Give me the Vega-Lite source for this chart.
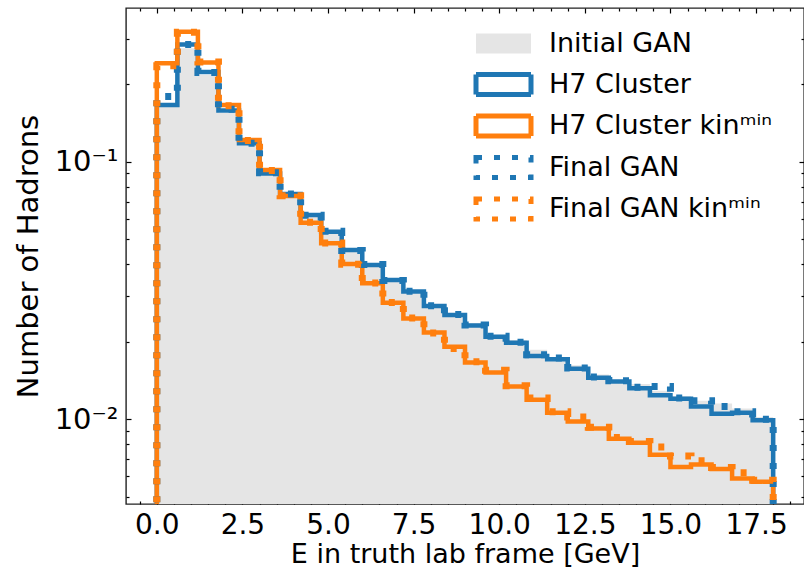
{
  "$schema": "https://vega.github.io/schema/vega-lite/v6.json",
  "autosize": {"type": "none"},
  "padding": {"left": 126, "top": 8, "right": 0, "bottom": 68},
  "width": 678,
  "height": 496,
  "config": {
    "font": "DejaVu Sans",
    "view": {"stroke": "#222", "strokeWidth": 1.4},
    "axis": {"grid": false, "domain": false, "tickColor": "#000", "tickWidth": 1.2, "labelColor": "#000", "titleColor": "#000", "labelFont": "DejaVu Sans", "titleFont": "DejaVu Sans", "titleFontWeight": "normal", "labelFlush": false, "labelOverlap": false},
    "legend": {"labelFont": "DejaVu Sans", "labelFontSize": 27, "labelColor": "#000", "labelLimit": 500, "padding": 0, "symbolOpacity": 1}
  },
  "data": {"values": [
    {"x": 0, "o": 0, "Initial GAN": 0.0001, "H7 Cluster": 0.0001, "H7 Cluster kinᵐⁱⁿ": 0.0001, "Final GAN": 0.0001, "Final GAN kinᵐⁱⁿ": 0.0001},
    {"x": 0, "o": 1, "Initial GAN": 0.1635, "H7 Cluster": 0.166, "H7 Cluster kinᵐⁱⁿ": 0.241, "Final GAN": 0.179, "Final GAN kinᵐⁱⁿ": 0.236},
    {"x": 0.6, "o": 2, "Initial GAN": 0.276, "H7 Cluster": 0.285, "H7 Cluster kinᵐⁱⁿ": 0.32, "Final GAN": 0.285, "Final GAN kinᵐⁱⁿ": 0.318},
    {"x": 1.2, "o": 3, "Initial GAN": 0.217, "H7 Cluster": 0.223, "H7 Cluster kinᵐⁱⁿ": 0.243, "Final GAN": 0.222, "Final GAN kinᵐⁱⁿ": 0.244},
    {"x": 1.8, "o": 4, "Initial GAN": 0.155, "H7 Cluster": 0.158, "H7 Cluster kinᵐⁱⁿ": 0.166, "Final GAN": 0.16, "Final GAN kinᵐⁱⁿ": 0.165},
    {"x": 2.4, "o": 5, "Initial GAN": 0.117, "H7 Cluster": 0.118, "H7 Cluster kinᵐⁱⁿ": 0.1214, "Final GAN": 0.118, "Final GAN kinᵐⁱⁿ": 0.121},
    {"x": 3.0, "o": 6, "Initial GAN": 0.089, "H7 Cluster": 0.09, "H7 Cluster kinᵐⁱⁿ": 0.0928, "Final GAN": 0.0905, "Final GAN kinᵐⁱⁿ": 0.0925},
    {"x": 3.6, "o": 7, "Initial GAN": 0.074, "H7 Cluster": 0.0749, "H7 Cluster kinᵐⁱⁿ": 0.0736, "Final GAN": 0.075, "Final GAN kinᵐⁱⁿ": 0.0738},
    {"x": 4.2, "o": 8, "Initial GAN": 0.0612, "H7 Cluster": 0.0621, "H7 Cluster kinᵐⁱⁿ": 0.058, "Final GAN": 0.062, "Final GAN kinᵐⁱⁿ": 0.0582},
    {"x": 4.8, "o": 9, "Initial GAN": 0.0525, "H7 Cluster": 0.0535, "H7 Cluster kinᵐⁱⁿ": 0.0482, "Final GAN": 0.0537, "Final GAN kinᵐⁱⁿ": 0.0483},
    {"x": 5.4, "o": 10, "Initial GAN": 0.0452, "H7 Cluster": 0.0454, "H7 Cluster kinᵐⁱⁿ": 0.0401, "Final GAN": 0.0452, "Final GAN kinᵐⁱⁿ": 0.04},
    {"x": 6.0, "o": 11, "Initial GAN": 0.0398, "H7 Cluster": 0.0397, "H7 Cluster kinᵐⁱⁿ": 0.0337, "Final GAN": 0.0399, "Final GAN kinᵐⁱⁿ": 0.0338},
    {"x": 6.6, "o": 12, "Initial GAN": 0.0346, "H7 Cluster": 0.0347, "H7 Cluster kinᵐⁱⁿ": 0.0283, "Final GAN": 0.0346, "Final GAN kinᵐⁱⁿ": 0.0284},
    {"x": 7.2, "o": 13, "Initial GAN": 0.0312, "H7 Cluster": 0.0313, "H7 Cluster kinᵐⁱⁿ": 0.0246, "Final GAN": 0.0314, "Final GAN kinᵐⁱⁿ": 0.0247},
    {"x": 7.8, "o": 14, "Initial GAN": 0.0277, "H7 Cluster": 0.0275, "H7 Cluster kinᵐⁱⁿ": 0.0217, "Final GAN": 0.0276, "Final GAN kinᵐⁱⁿ": 0.0216},
    {"x": 8.4, "o": 15, "Initial GAN": 0.0257, "H7 Cluster": 0.0254, "H7 Cluster kinᵐⁱⁿ": 0.0191, "Final GAN": 0.0255, "Final GAN kinᵐⁱⁿ": 0.0188},
    {"x": 9.0, "o": 16, "Initial GAN": 0.0236, "H7 Cluster": 0.0231, "H7 Cluster kinᵐⁱⁿ": 0.0166, "Final GAN": 0.0232, "Final GAN kinᵐⁱⁿ": 0.0167},
    {"x": 9.6, "o": 17, "Initial GAN": 0.0213, "H7 Cluster": 0.0209, "H7 Cluster kinᵐⁱⁿ": 0.0152, "Final GAN": 0.021, "Final GAN kinᵐⁱⁿ": 0.0155},
    {"x": 10.2, "o": 18, "Initial GAN": 0.0203, "H7 Cluster": 0.0198, "H7 Cluster kinᵐⁱⁿ": 0.0134, "Final GAN": 0.0199, "Final GAN kinᵐⁱⁿ": 0.0135},
    {"x": 10.8, "o": 19, "Initial GAN": 0.0186, "H7 Cluster": 0.0176, "H7 Cluster kinᵐⁱⁿ": 0.0119, "Final GAN": 0.0178, "Final GAN kinᵐⁱⁿ": 0.0121},
    {"x": 11.4, "o": 20, "Initial GAN": 0.0174, "H7 Cluster": 0.0171, "H7 Cluster kinᵐⁱⁿ": 0.0106, "Final GAN": 0.0173, "Final GAN kinᵐⁱⁿ": 0.0107},
    {"x": 12.0, "o": 21, "Initial GAN": 0.0162, "H7 Cluster": 0.0157, "H7 Cluster kinᵐⁱⁿ": 0.0098, "Final GAN": 0.0158, "Final GAN kinᵐⁱⁿ": 0.0102},
    {"x": 12.6, "o": 22, "Initial GAN": 0.0149, "H7 Cluster": 0.0145, "H7 Cluster kinᵐⁱⁿ": 0.0092, "Final GAN": 0.0146, "Final GAN kinᵐⁱⁿ": 0.0093},
    {"x": 13.2, "o": 23, "Initial GAN": 0.0141, "H7 Cluster": 0.014, "H7 Cluster kinᵐⁱⁿ": 0.0084, "Final GAN": 0.0141, "Final GAN kinᵐⁱⁿ": 0.0085},
    {"x": 13.8, "o": 24, "Initial GAN": 0.0137, "H7 Cluster": 0.0132, "H7 Cluster kinᵐⁱⁿ": 0.0081, "Final GAN": 0.0133, "Final GAN kinᵐⁱⁿ": 0.0082},
    {"x": 14.4, "o": 25, "Initial GAN": 0.0129, "H7 Cluster": 0.0124, "H7 Cluster kinᵐⁱⁿ": 0.00727, "Final GAN": 0.0134, "Final GAN kinᵐⁱⁿ": 0.0078},
    {"x": 15.0, "o": 26, "Initial GAN": 0.0123, "H7 Cluster": 0.012, "H7 Cluster kinᵐⁱⁿ": 0.00652, "Final GAN": 0.0121, "Final GAN kinᵐⁱⁿ": 0.0072},
    {"x": 15.6, "o": 27, "Initial GAN": 0.0118, "H7 Cluster": 0.0112, "H7 Cluster kinᵐⁱⁿ": 0.00667, "Final GAN": 0.0118, "Final GAN kinᵐⁱⁿ": 0.0069},
    {"x": 16.2, "o": 28, "Initial GAN": 0.0115, "H7 Cluster": 0.0105, "H7 Cluster kinᵐⁱⁿ": 0.0064, "Final GAN": 0.0112, "Final GAN kinᵐⁱⁿ": 0.0065},
    {"x": 16.8, "o": 29, "Initial GAN": 0.011, "H7 Cluster": 0.0106, "H7 Cluster kinᵐⁱⁿ": 0.00589, "Final GAN": 0.0107, "Final GAN kinᵐⁱⁿ": 0.0062},
    {"x": 17.4, "o": 30, "Initial GAN": 0.0102, "H7 Cluster": 0.0099, "H7 Cluster kinᵐⁱⁿ": 0.00571, "Final GAN": 0.01, "Final GAN kinᵐⁱⁿ": 0.0058},
    {"x": 18.0, "o": 31, "Initial GAN": 0.0102, "H7 Cluster": 0.0099, "H7 Cluster kinᵐⁱⁿ": 0.00571, "Final GAN": 0.01, "Final GAN kinᵐⁱⁿ": 0.0058},
    {"x": 18.0, "o": 32, "Initial GAN": 0.0001, "H7 Cluster": 0.0001, "H7 Cluster kinᵐⁱⁿ": 0.0001, "Final GAN": 0.0001, "Final GAN kinᵐⁱⁿ": 0.0001}
  ]},
  "transform": [{"fold": ["Initial GAN", "H7 Cluster", "H7 Cluster kinᵐⁱⁿ", "Final GAN", "Final GAN kinᵐⁱⁿ"], "as": ["s", "y"]}],
  "layer": [
    {
      "transform": [{"filter": "datum.s === 'Initial GAN' && datum.o > 0 && datum.o < 32"}],
      "mark": {"type": "area", "interpolate": "step-after", "clip": true, "opacity": 1},
      "encoding": {
        "x": {"field": "x", "type": "quantitative", "scale": {"domain": [-0.9, 18.9], "nice": false, "zero": false},
          "axis": {"orient": "bottom", "values": [0, 2.5, 5, 7.5, 10, 12.5, 15, 17.5], "format": ".1f", "tickSize": -5, "labelFontSize": 28, "labelPadding": 12, "title": "E in truth lab frame [GeV]", "titleFontSize": 27, "titlePadding": 2}},
        "y": {"field": "y", "type": "quantitative", "scale": {"type": "log", "domain": [0.004685, 0.3953], "nice": false},
          "axis": {"orient": "left", "values": [0.01, 0.1], "labelExpr": "datum.value > 0.05 ? '10⁻¹' : '10⁻²'", "tickSize": -5, "labelFontSize": 29, "labelPadding": 13, "title": "Number of Hadrons", "titleFontSize": 29, "titlePadding": 11}},
        "y2": {"datum": 0.0001},
        "fill": {"field": "s", "type": "nominal",
          "scale": {"domain": ["Initial GAN"], "range": ["#e5e5e5"]},
          "legend": {
            "orient": "none", "legendX": 346, "legendY": 22, "title": null,
            "symbolType": "M-2.75,-1H2.75V1H-2.75Z", "symbolSize": 400, "symbolStrokeWidth": 0, "symbolStrokeColor": "transparent",
            "symbolOffset": 18, "labelOffset": 32, "rowPadding": 4.5
          }}
      }
    },
    {
      "transform": [{"filter": "datum.s === 'H7 Cluster'"}],
      "mark": {"type": "line", "interpolate": "step-after", "clip": true, "strokeWidth": 4.5, "strokeJoin": "miter", "strokeCap": "butt"},
      "encoding": {
        "x": {"field": "x", "type": "quantitative", "scale": {"domain": [-0.9, 18.9], "nice": false, "zero": false},
          "axis": {"orient": "bottom", "values": [-0.5, 0.5, 1, 1.5, 2, 3, 3.5, 4, 4.5, 5.5, 6, 6.5, 7, 8, 8.5, 9, 9.5, 10.5, 11, 11.5, 12, 13, 13.5, 14, 14.5, 15.5, 16, 16.5, 17, 18, 18.5], "tickSize": -3, "labels": false, "title": null}},
        "y": {"field": "y", "type": "quantitative", "scale": {"type": "log", "domain": [0.004685, 0.3953], "nice": false},
          "axis": {"orient": "left", "values": [0.005, 0.006, 0.007, 0.008, 0.009, 0.02, 0.03, 0.04, 0.05, 0.06, 0.07, 0.08, 0.09, 0.2, 0.3], "tickSize": -3, "labels": false, "title": null}},
        "order": {"field": "o", "type": "quantitative"},
        "stroke": {"field": "s", "type": "nominal",
          "scale": {"domain": ["H7 Cluster", "H7 Cluster kinᵐⁱⁿ", "Final GAN", "Final GAN kinᵐⁱⁿ"], "range": ["#1f77b4", "#ff7f0e", "#1f77b4", "#ff7f0e"]},
          "legend": {
            "orient": "none", "legendX": 346, "legendY": 63, "title": null,
            "symbolType": "M-2.75,-1H2.75V1H-2.75Z", "symbolSize": 400, "symbolStrokeWidth": 5, "symbolFillColor": "transparent",
            "symbolOffset": 18, "labelOffset": 32, "rowPadding": 0.5
          }},
        "strokeDash": {"field": "s", "type": "nominal",
          "scale": {"domain": ["H7 Cluster", "H7 Cluster kinᵐⁱⁿ", "Final GAN", "Final GAN kinᵐⁱⁿ"], "range": [[1, 0], [1, 0], [6, 12], [6, 12]]}}
      }
    },
    {
      "transform": [{"filter": "datum.s === 'H7 Cluster kinᵐⁱⁿ'"}],
      "mark": {"type": "line", "interpolate": "step-after", "clip": true, "strokeWidth": 4.5, "strokeJoin": "miter", "strokeCap": "butt"},
      "encoding": {
        "x": {"field": "x", "type": "quantitative", "scale": {"domain": [-0.9, 18.9], "nice": false, "zero": false},
          "axis": {"orient": "top", "values": [0, 2.5, 5, 7.5, 10, 12.5, 15, 17.5], "tickSize": -5, "labels": false, "title": null}},
        "y": {"field": "y", "type": "quantitative", "scale": {"type": "log", "domain": [0.004685, 0.3953], "nice": false},
          "axis": {"orient": "right", "values": [0.01, 0.1], "tickSize": -5, "labels": false, "title": null}},
        "order": {"field": "o", "type": "quantitative"},
        "stroke": {"field": "s", "type": "nominal"},
        "strokeDash": {"field": "s", "type": "nominal"}
      }
    },
    {
      "transform": [{"filter": "datum.s === 'Final GAN'"}],
      "mark": {"type": "line", "interpolate": "step-after", "clip": true, "strokeWidth": 7, "strokeJoin": "miter", "strokeCap": "butt"},
      "encoding": {
        "x": {"field": "x", "type": "quantitative", "scale": {"domain": [-0.9, 18.9], "nice": false, "zero": false},
          "axis": {"orient": "top", "values": [-0.5, 0.5, 1, 1.5, 2, 3, 3.5, 4, 4.5, 5.5, 6, 6.5, 7, 8, 8.5, 9, 9.5, 10.5, 11, 11.5, 12, 13, 13.5, 14, 14.5, 15.5, 16, 16.5, 17, 18, 18.5], "tickSize": -3, "labels": false, "title": null}},
        "y": {"field": "y", "type": "quantitative", "scale": {"type": "log", "domain": [0.004685, 0.3953], "nice": false},
          "axis": {"orient": "right", "values": [0.005, 0.006, 0.007, 0.008, 0.009, 0.02, 0.03, 0.04, 0.05, 0.06, 0.07, 0.08, 0.09, 0.2, 0.3], "tickSize": -3, "labels": false, "title": null}},
        "order": {"field": "o", "type": "quantitative"},
        "stroke": {"field": "s", "type": "nominal"},
        "strokeDash": {"field": "s", "type": "nominal"}
      }
    },
    {
      "transform": [{"filter": "datum.s === 'Final GAN kinᵐⁱⁿ'"}],
      "mark": {"type": "line", "interpolate": "step-after", "clip": true, "strokeWidth": 7, "strokeJoin": "miter", "strokeCap": "butt"},
      "encoding": {
        "x": {"field": "x", "type": "quantitative", "scale": {"domain": [-0.9, 18.9], "nice": false, "zero": false}, "axis": null},
        "y": {"field": "y", "type": "quantitative", "scale": {"type": "log", "domain": [0.004685, 0.3953], "nice": false}, "axis": null},
        "order": {"field": "o", "type": "quantitative"},
        "stroke": {"field": "s", "type": "nominal"},
        "strokeDash": {"field": "s", "type": "nominal"}
      }
    }
  ],
  "resolve": {"axis": {"x": "independent", "y": "independent"}}
}
